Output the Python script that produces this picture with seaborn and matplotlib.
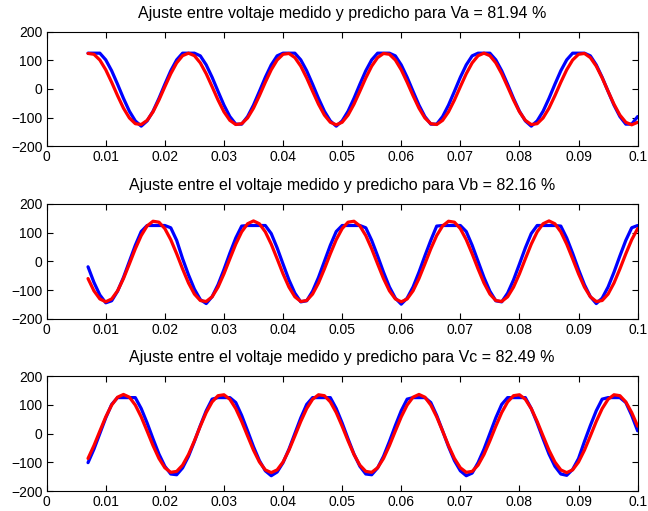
import numpy as np
import pandas as pd
import seaborn as sns
import matplotlib
matplotlib.use("Agg")
import matplotlib.pyplot as plt

# Sample times (s): 1 ms sampling from 7 ms to 100 ms
t = np.round(np.linspace(0.007, 0.100, 94), 4)

# Phase A: measured (blue) and predicted (red) voltage
va_measured = [
    125, 125, 125, 101.7, 63.6, 16.5, -32.8, -77.6, -111.4, -129.7,
    -111.4, -77.6, -32.8, 16.5, 63.6, 101.7, 125, 125, 125, 115.7,
    84.1, 40.8, -8.3, -56.2, -96.2, -122.7, -122.7, -96.2, -56.2, -8.3,
    40.8, 84.1, 115.7, 125, 125, 125, 101.7, 63.6, 16.5, -32.8,
    -77.6, -111.4, -129.7, -111.4, -77.6, -32.8, 16.5, 63.6, 101.7, 125,
    125, 125, 115.7, 84.1, 40.8, -8.3, -56.2, -96.2, -122.7, -122.7,
    -96.2, -56.2, -8.3, 40.8, 84.1, 115.7, 125, 125, 125, 101.7,
    63.6, 16.5, -32.8, -77.6, -111.4, -129.7, -111.4, -77.6, -32.8, 16.5,
    63.6, 101.7, 125, 125, 125, 115.7, 84.1, 40.8, -8.3, -56.2,
    -96.2, -122.7, -122.7, -96.2,
]
va_predicted = [
    124.0, 121.1, 101.1, 67.0, 23.4, -23.4, -67.0, -101.1, -121.1, -124.0,
    -109.5, -79.7, -38.6, 7.9, 53.2, 91.1, 116.2, 125.0, 116.2, 91.1,
    53.2, 7.9, -38.6, -79.7, -109.5, -124.0, -121.1, -101.1, -67.0, -23.4,
    23.4, 67.0, 101.1, 121.1, 124.0, 109.5, 79.7, 38.6, -7.9, -53.2,
    -91.1, -116.2, -125.0, -116.2, -91.1, -53.2, -7.9, 38.6, 79.7, 109.5,
    124.0, 121.1, 101.1, 67.0, 23.4, -23.4, -67.0, -101.1, -121.1, -124.0,
    -109.5, -79.7, -38.6, 7.9, 53.2, 91.1, 116.2, 125.0, 116.2, 91.1,
    53.2, 7.9, -38.6, -79.7, -109.5, -124.0, -121.1, -101.1, -67.0, -23.4,
    23.4, 67.0, 101.1, 121.1, 124.0, 109.5, 79.7, 38.6, -7.9, -53.2,
    -91.1, -116.2, -125.0, -116.2,
]

# Phase B
vb_measured = [
    -19.0, -73.2, -117.1, -144.6, -137.5, -104.0, -56.0, 0.0, 56.0, 104.0,
    125, 125, 125, 125, 117.1, 73.2, 9.5, -47.0, -96.9, -133.2,
    -147.2, -123.0, -81.4, -28.5, 28.5, 81.4, 123.0, 125, 125, 125,
    125, 96.9, 47.0, -9.5, -64.7, -110.8, -141.3, -137.5, -104.0, -56.0,
    0.0, 56.0, 104.0, 125, 125, 125, 125, 117.1, 73.2, 19.0,
    -37.8, -89.3, -128.3, -149.3, -128.3, -89.3, -37.8, 19.0, 73.2, 123.0,
    125, 125, 125, 125, 104.0, 56.0, 0.0, -56.0, -104.0, -137.5,
    -141.3, -110.8, -64.7, -9.5, 47.0, 96.9, 125, 125, 125, 125,
    123.0, 81.4, 28.5, -28.5, -81.4, -123.0, -147.2, -128.3, -89.3, -37.8,
    19.0, 73.2, 117.1, 125,
]
vb_predicted = [
    -60.0, -102.8, -131.1, -141.0, -131.1, -102.8, -60.0, -8.9, 43.6, 89.9,
    123.6, 139.9, 136.6, 114.1, 75.5, 26.4, -26.4, -75.5, -114.1, -136.6,
    -139.9, -123.6, -89.9, -43.6, 8.9, 60.0, 102.8, 131.1, 141.0, 131.1,
    102.8, 60.0, 8.9, -43.6, -89.9, -123.6, -139.9, -136.6, -114.1, -75.5,
    -26.4, 26.4, 75.5, 114.1, 136.6, 139.9, 123.6, 89.9, 43.6, -8.9,
    -60.0, -102.8, -131.1, -141.0, -131.1, -102.8, -60.0, -8.9, 43.6, 89.9,
    123.6, 139.9, 136.6, 114.1, 75.5, 26.4, -26.4, -75.5, -114.1, -136.6,
    -139.9, -123.6, -89.9, -43.6, 8.9, 60.0, 102.8, 131.1, 141.0, 131.1,
    102.8, 60.0, 8.9, -43.6, -89.9, -123.6, -139.9, -136.6, -114.1, -75.5,
    -26.4, 26.4, 75.5, 114.1,
]

# Phase C
vc_measured = [
    -101.3, -54.5, 0.0, 54.5, 101.3, 125, 125, 125, 125, 87.0,
    36.8, -18.5, -71.3, -114.0, -140.8, -143.4, -119.7, -79.3, -27.7, 27.7,
    79.3, 119.7, 125, 125, 125, 107.9, 63.0, 9.3, -45.7, -94.3,
    -129.7, -146.8, -133.9, -101.3, -54.5, 0.0, 54.5, 101.3, 125, 125,
    125, 125, 87.0, 36.8, -18.5, -71.3, -114.0, -140.8, -143.4, -119.7,
    -79.3, -27.7, 27.7, 79.3, 119.7, 125, 125, 125, 107.9, 63.0,
    9.3, -45.7, -94.3, -129.7, -146.8, -137.6, -101.3, -54.5, 0.0, 54.5,
    101.3, 125, 125, 125, 125, 87.0, 36.8, -18.5, -71.3, -114.0,
    -140.8, -145.4, -125.0, -87.0, -27.7, 27.7, 79.3, 119.7, 125, 125,
    125, 107.9, 63.0, 9.3,
]
vc_predicted = [
    -86.7, -42.0, 8.5, 57.9, 99.1, 126.5, 136.0, 126.5, 99.1, 57.9,
    8.5, -42.0, -86.7, -119.2, -134.9, -131.7, -110.0, -72.9, -25.5, 25.5,
    72.9, 110.0, 131.7, 134.9, 119.2, 86.7, 42.0, -8.5, -57.9, -99.1,
    -126.5, -136.0, -126.5, -99.1, -57.9, -8.5, 42.0, 86.7, 119.2, 134.9,
    131.7, 110.0, 72.9, 25.5, -25.5, -72.9, -110.0, -131.7, -134.9, -119.2,
    -86.7, -42.0, 8.5, 57.9, 99.1, 126.5, 136.0, 126.5, 99.1, 57.9,
    8.5, -42.0, -86.7, -119.2, -134.9, -131.7, -110.0, -72.9, -25.5, 25.5,
    72.9, 110.0, 131.7, 134.9, 119.2, 86.7, 42.0, -8.5, -57.9, -99.1,
    -126.5, -136.0, -126.5, -99.1, -57.9, -8.5, 42.0, 86.7, 119.2, 134.9,
    131.7, 110.0, 72.9, 25.5,
]

fit_percent = [81.94, 82.16, 82.49]
titles = [
    "Ajuste entre voltaje medido y predicho para Va = {:.2f} %",
    "Ajuste entre el voltaje medido y predicho para Vb = {:.2f} %",
    "Ajuste entre el voltaje medido y predicho para Vc = {:.2f} %",
]
x_ticks = [0, 0.01, 0.02, 0.03, 0.04, 0.05, 0.06, 0.07, 0.08, 0.09, 0.1]
x_tick_labels = ["0", "0.01", "0.02", "0.03", "0.04", "0.05", "0.06",
                 "0.07", "0.08", "0.09", "0.1"]
y_ticks = [-200, -100, 0, 100, 200]

sns.set_theme(style="white")
plt.rcParams["font.family"] = ["Liberation Sans", "DejaVu Sans"]
plt.rcParams["axes.unicode_minus"] = True
plt.rcParams["text.color"] = "black"
plt.rcParams["axes.titlecolor"] = "black"

fig = plt.figure(figsize=(6.48, 5.11), dpi=100)
fig.patch.set_facecolor("white")

# [left, bottom, width, height] of the three stacked panels
panel_boxes = [
    [0.072, 0.7137, 0.912, 0.2243],
    [0.072, 0.3763, 0.912, 0.2245],
    [0.072, 0.0391, 0.912, 0.2250],
]

series = [
    (va_measured, va_predicted),
    (vb_measured, vb_predicted),
    (vc_measured, vc_predicted),
]

for box, (meas, pred), title, pct in zip(panel_boxes, series, titles, fit_percent):
    ax = fig.add_axes(box)
    df = pd.DataFrame({"t": t, "medido": meas, "predicho": pred})
    sns.lineplot(data=df, x="t", y="medido", ax=ax, color=(0, 0, 1),
                 linewidth=2.3, estimator=None, sort=False)
    sns.lineplot(data=df, x="t", y="predicho", ax=ax, color=(1, 0, 0),
                 linewidth=2.3, estimator=None, sort=False)
    ax.set_xlim(0, 0.1)
    ax.set_ylim(-200, 200)
    ax.set_xticks(x_ticks)
    ax.set_xticklabels(x_tick_labels)
    ax.set_yticks(y_ticks)
    ax.set_xlabel("")
    ax.set_ylabel("")
    ax.set_title(title.format(pct), fontsize=11.5, pad=10, color="black")
    ax.tick_params(direction="in", length=4, width=0.8, labelsize=10,
                   top=True, right=True, bottom=True, left=True, pad=3,
                   colors="black")
    for sp in ax.spines.values():
        sp.set_visible(True)
        sp.set_color("black")
        sp.set_linewidth(0.8)
    ax.grid(False)

fig.savefig("out.png", dpi=100, facecolor="white")
